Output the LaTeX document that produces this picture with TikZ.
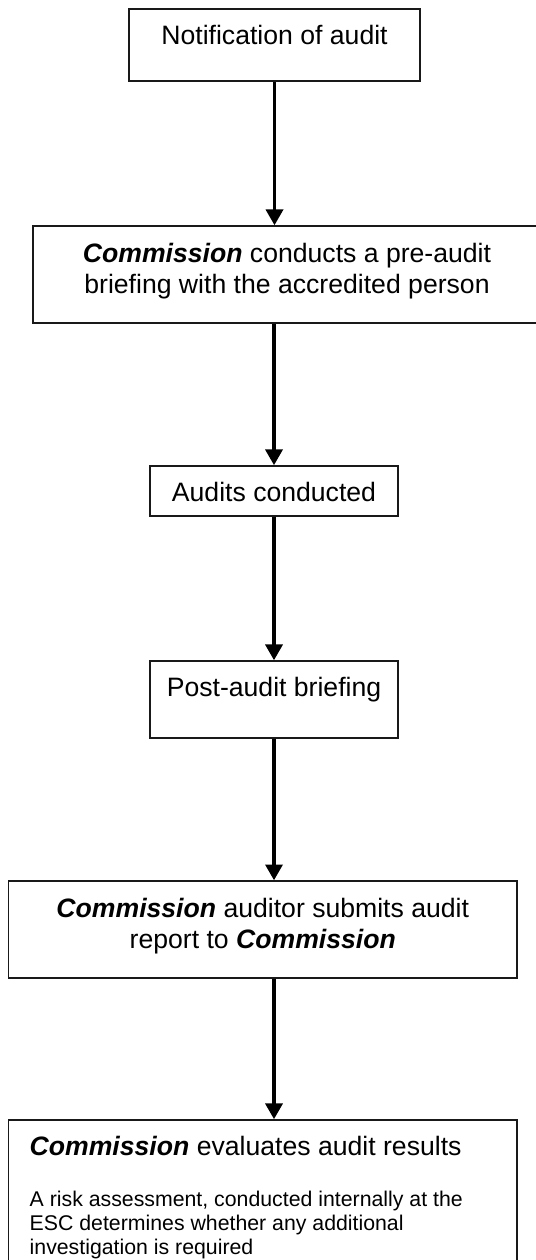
\documentclass[tikz,border=0pt]{standalone}
\usepackage{fontspec}
\setmainfont{Liberation Sans}
\usepackage{tikz}
\usetikzlibrary{arrows.meta,positioning}

\newcommand{\CommName}{\textbf{\textit{Commission}}}

\begin{document}
\begin{tikzpicture}[
  stage/.style={draw=black!90,line width=0.7pt,inner sep=0pt},
  flow/.style={-{Triangle[length=0.25cm,width=0.27cm]},line width=1.5pt},
  txt/.style={inner sep=0pt,font=\fontsize{12}{13.8}\selectfont},
  note/.style={inner sep=0pt,align=left,font=\fontsize{9.6}{10.8}\selectfont}]

  \useasboundingbox (0,0) rectangle (8.48,-19.971);

  % the six stages, top to bottom
  \node[stage,minimum width=4.612cm,minimum height=1.141cm] (B1) at (4.351,-0.713) {};
  \node[stage,minimum width=8.052cm,minimum height=1.537cm] (B2) at (4.549,-4.351) {};
  \node[stage,minimum width=3.931cm,minimum height=0.793cm] (B3) at (4.343,-7.782) {};
  \node[stage,minimum width=3.931cm,minimum height=1.220cm] (B4) at (4.343,-11.087) {};
  \node[stage,minimum width=8.060cm,minimum height=1.537cm] (B5) at (4.165,-14.733) {};
  \node[stage,minimum width=8.060cm,minimum height=2.267cm] (B6) at (4.165,-18.885) {};

  % texts sit near the top edge of each box
  \node[txt,below=0.26cm of B1.north] (L1) {Notification of audit};
  \node[txt,align=center,below=0.28cm of B2.north] (L2)
    {\CommName{} conducts a pre-audit\\briefing with the accredited person};
  \node[txt,below=0.26cm of B3.north] (L3) {Audits conducted};
  \node[txt,below=0.26cm of B4.north] (L4) {Post-audit briefing};
  \node[txt,align=center,below=0.28cm of B5.north] (L5)
    {\CommName{} auditor submits audit\\report to \CommName};
  \node[txt,below right=0.27cm and 0.341cm of B6.north west] (L6)
    {\CommName{} evaluates audit results};
  \node[note,below right=0.54cm and 0cm of L6.south west] (L7)
    {A risk assessment, conducted internally at the\\
     ESC determines whether any additional\\
     investigation is required};

  % flow down the middle axis
  \draw[flow] (B1.south) -- (B1.south |- B2.north);
  \draw[flow] (B3 |- B2.south) -- (B3.north);
  \draw[flow] (B3.south) -- (B4.north);
  \draw[flow] (B4.south) -- (B4.south |- B5.north);
  \draw[flow] (B4 |- B5.south) -- (B4 |- B6.north);
\end{tikzpicture}
\end{document}
